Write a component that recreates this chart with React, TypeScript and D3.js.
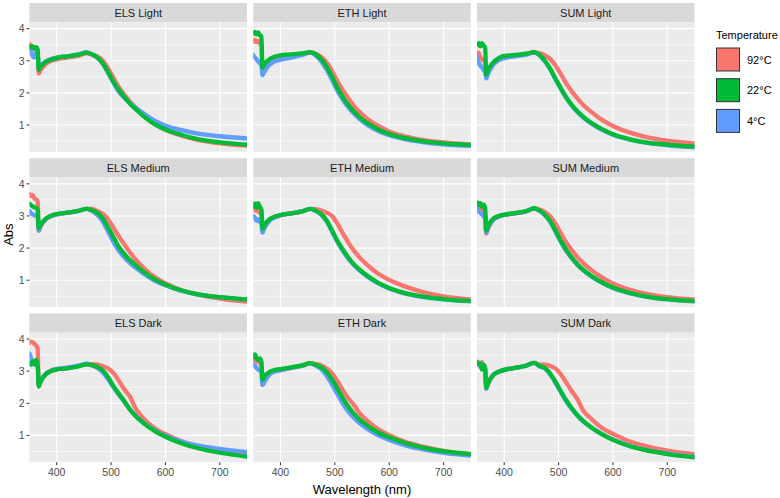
import React from 'react';
import * as d3 from 'd3';

const wavelengths = [350, 353, 356, 359, 362, 365, 367, 370, 380, 390, 400, 420, 440, 455, 465, 475, 485, 495, 505, 515, 525, 535, 545, 560, 580, 600, 630, 660, 700, 750];

const elsLight92 = [3.52,3.45,3.40,3.38,3.35,3.30,2.60,2.70,2.90,3.00,3.05,3.10,3.16,3.23,3.19,3.14,3.00,2.75,2.45,2.16,1.93,1.72,1.55,1.30,1.04,0.85,0.67,0.54,0.43,0.36];
const elsLight22 = [3.45,3.42,3.45,3.38,3.42,3.35,2.72,2.80,2.96,3.04,3.09,3.14,3.19,3.25,3.20,3.10,2.92,2.63,2.33,2.08,1.86,1.66,1.50,1.27,1.03,0.86,0.69,0.56,0.46,0.39];
const elsLight4 = [3.42,3.30,3.15,3.10,3.25,3.20,2.75,2.82,2.98,3.05,3.10,3.14,3.20,3.26,3.19,3.09,2.90,2.61,2.30,2.02,1.84,1.68,1.54,1.36,1.14,0.98,0.84,0.73,0.65,0.58];

const ethLight92 = [3.60,3.65,3.58,3.62,3.55,3.50,2.68,2.80,2.98,3.06,3.10,3.15,3.20,3.26,3.22,3.12,2.95,2.68,2.36,2.08,1.83,1.60,1.41,1.19,0.97,0.80,0.64,0.54,0.46,0.40];
const ethLight22 = [3.85,3.90,3.82,3.88,3.80,3.75,2.78,2.88,3.05,3.13,3.17,3.20,3.23,3.27,3.20,3.05,2.82,2.50,2.16,1.86,1.62,1.42,1.25,1.06,0.86,0.72,0.59,0.50,0.43,0.38];
const ethLight4 = [3.18,3.10,3.05,2.98,2.92,2.85,2.55,2.65,2.88,2.98,3.03,3.10,3.18,3.25,3.16,2.98,2.72,2.40,2.06,1.78,1.55,1.36,1.20,1.00,0.81,0.68,0.55,0.47,0.40,0.35];

const sumLight92 = [3.22,3.25,3.10,3.05,3.00,2.95,2.52,2.62,2.90,3.03,3.10,3.15,3.20,3.26,3.24,3.17,3.05,2.84,2.56,2.27,2.03,1.82,1.63,1.41,1.16,0.97,0.77,0.63,0.51,0.43];
const sumLight22 = [3.50,3.55,3.45,3.55,3.48,3.40,2.57,2.70,2.95,3.08,3.15,3.18,3.22,3.27,3.18,3.00,2.74,2.42,2.12,1.84,1.61,1.42,1.26,1.07,0.87,0.71,0.56,0.46,0.39,0.33];
const sumLight4 = [3.10,2.95,2.85,2.80,2.72,2.65,2.45,2.58,2.88,3.02,3.08,3.14,3.19,3.25,3.17,2.98,2.72,2.40,2.10,1.82,1.59,1.40,1.24,1.05,0.85,0.70,0.55,0.45,0.37,0.31];

const elsMedium92 = [3.68,3.62,3.65,3.55,3.52,3.45,2.54,2.66,2.90,3.00,3.05,3.10,3.16,3.22,3.22,3.15,3.06,2.88,2.62,2.34,2.10,1.86,1.65,1.38,1.10,0.90,0.69,0.55,0.43,0.33];
const elsMedium22 = [3.38,3.33,3.30,3.27,3.25,3.20,2.62,2.72,2.92,3.01,3.06,3.10,3.16,3.22,3.18,3.09,2.92,2.63,2.32,2.02,1.80,1.62,1.47,1.26,1.03,0.86,0.68,0.56,0.47,0.40];
const elsMedium4 = [3.15,3.08,3.05,3.02,3.00,2.95,2.55,2.68,2.90,3.00,3.05,3.10,3.16,3.22,3.16,3.03,2.82,2.50,2.17,1.90,1.70,1.53,1.39,1.20,0.99,0.84,0.67,0.56,0.47,0.40];

const ethMedium92 = [3.25,3.20,3.15,3.18,3.10,3.05,2.50,2.62,2.86,2.96,3.02,3.08,3.14,3.22,3.21,3.17,3.10,3.00,2.75,2.45,2.17,1.92,1.72,1.47,1.20,1.01,0.80,0.64,0.50,0.40];
const ethMedium22 = [3.30,3.38,3.25,3.40,3.28,3.20,2.60,2.70,2.90,2.98,3.03,3.08,3.14,3.22,3.16,3.06,2.86,2.55,2.22,1.95,1.70,1.50,1.34,1.14,0.92,0.76,0.60,0.50,0.41,0.35];
const ethMedium4 = [3.00,2.95,2.85,2.90,2.82,2.75,2.48,2.60,2.85,2.96,3.02,3.08,3.14,3.22,3.15,3.04,2.83,2.51,2.18,1.91,1.67,1.47,1.31,1.11,0.90,0.74,0.58,0.48,0.40,0.34];

const sumMedium92 = [3.35,3.30,3.20,3.25,3.10,3.05,2.45,2.60,2.88,2.98,3.03,3.08,3.14,3.23,3.20,3.12,2.98,2.74,2.44,2.15,1.92,1.71,1.54,1.32,1.08,0.90,0.71,0.58,0.47,0.40];
const sumMedium22 = [3.42,3.35,3.40,3.28,3.35,3.25,2.55,2.68,2.92,3.00,3.04,3.09,3.15,3.24,3.17,3.04,2.83,2.52,2.20,1.92,1.69,1.49,1.33,1.14,0.93,0.77,0.61,0.50,0.41,0.35];
const sumMedium4 = [3.25,3.15,3.10,3.05,3.00,2.90,2.48,2.62,2.88,2.98,3.03,3.08,3.14,3.23,3.16,3.02,2.80,2.49,2.17,1.89,1.67,1.47,1.31,1.12,0.92,0.76,0.60,0.49,0.40,0.34];

const elsDark92 = [3.88,3.92,3.90,3.85,3.80,3.70,2.57,2.68,2.92,3.02,3.06,3.10,3.16,3.22,3.22,3.20,3.15,3.08,2.93,2.68,2.42,2.20,1.84,1.52,1.22,1.04,0.82,0.66,0.52,0.40];
const elsDark22 = [3.25,3.20,3.30,3.22,3.35,3.20,2.52,2.65,2.90,3.00,3.05,3.09,3.15,3.21,3.19,3.13,3.02,2.80,2.52,2.28,2.05,1.80,1.60,1.38,1.14,0.96,0.75,0.60,0.46,0.34];
const elsDark4 = [3.55,3.40,3.25,3.20,3.20,3.15,2.55,2.68,2.92,3.02,3.07,3.11,3.17,3.23,3.18,3.10,2.96,2.74,2.48,2.25,2.03,1.80,1.62,1.40,1.16,0.99,0.80,0.68,0.58,0.48];

const ethDark92 = [3.35,3.38,3.30,3.32,3.25,3.20,2.57,2.68,2.92,3.00,3.03,3.10,3.17,3.24,3.22,3.18,3.08,2.93,2.68,2.40,2.15,1.95,1.70,1.45,1.19,1.01,0.80,0.66,0.52,0.41];
const ethDark22 = [3.45,3.52,3.40,3.35,3.40,3.30,2.73,2.82,2.98,3.04,3.06,3.12,3.18,3.25,3.20,3.12,2.97,2.74,2.45,2.15,1.89,1.68,1.50,1.30,1.09,0.94,0.76,0.63,0.51,0.42];
const ethDark4 = [3.22,3.18,3.10,3.05,3.02,2.98,2.57,2.66,2.90,2.99,3.03,3.10,3.17,3.24,3.17,3.06,2.86,2.58,2.28,1.98,1.74,1.55,1.39,1.20,1.00,0.86,0.69,0.57,0.46,0.37];

const sumDark92 = [3.30,3.25,3.15,3.28,3.10,3.05,2.46,2.60,2.88,2.98,3.04,3.10,3.17,3.26,3.20,3.20,3.16,3.07,2.88,2.62,2.36,2.12,1.78,1.52,1.23,1.05,0.82,0.67,0.53,0.42];
const sumDark22 = [3.28,3.22,3.25,3.05,3.20,3.10,2.48,2.62,2.88,2.98,3.04,3.10,3.17,3.26,3.16,3.10,2.92,2.65,2.35,2.07,1.83,1.62,1.45,1.25,1.03,0.86,0.67,0.54,0.42,0.32];
const sumDark4 = [3.25,3.20,3.15,3.10,3.08,3.00,2.45,2.60,2.88,2.98,3.04,3.10,3.17,3.26,3.15,3.08,2.89,2.62,2.32,2.04,1.81,1.61,1.44,1.25,1.04,0.87,0.68,0.55,0.43,0.33];

const panelTitles = ['ELS Light', 'ETH Light', 'SUM Light', 'ELS Medium', 'ETH Medium', 'SUM Medium', 'ELS Dark', 'ETH Dark', 'SUM Dark'];
const temperatures = ['92°C', '22°C', '4°C'];
const colors = ['#F8766D', '#00BA38', '#619CFF'];
const xTicks = [400, 500, 600, 700];
const yTicks = [1, 2, 3, 4];
const yMinor = [0.5, 1.5, 2.5, 3.5];

const panelSeries = [
  [elsLight92, elsLight22, elsLight4],
  [ethLight92, ethLight22, ethLight4],
  [sumLight92, sumLight22, sumLight4],
  [elsMedium92, elsMedium22, elsMedium4],
  [ethMedium92, ethMedium22, ethMedium4],
  [sumMedium92, sumMedium22, sumMedium4],
  [elsDark92, elsDark22, elsDark4],
  [ethDark92, ethDark22, ethDark4],
  [sumDark92, sumDark22, sumDark4],
];

const FONT = 'Liberation Sans, Arial, sans-serif';
const colX0 = 29.5;
const colPitch = 223.75;
const panelW = 217.5;
const rowY0 = 3;
const rowPitch = 155.2;
const stripH = 19.3;
const panelH = 129.5;

export default function App() {
  const x = d3.scaleLinear().domain([350, 750]).range([0, panelW]);
  const y = d3.scaleLinear().domain([0.166, 4.197]).range([panelH, 0]);
  const line = d3
    .line<number>()
    .x((_, i) => x(wavelengths[i]))
    .y((d) => y(d))
    .curve(d3.curveMonotoneX);
  const drawOrder = [0, 2, 1];

  return (
    <svg
      width={780}
      height={498}
      style={{ position: 'absolute', left: 0, top: 0, background: '#fff' }}
      fontFamily={FONT}
    >
      {panelTitles.map((title, p) => {
        const r = Math.floor(p / 3);
        const c = p % 3;
        const px = colX0 + c * colPitch;
        const sy = rowY0 + r * rowPitch;
        const py = sy + stripH;
        return (
          <g key={title}>
            <rect x={px} y={sy} width={panelW} height={stripH} fill="#D9D9D9" />
            <text x={px + panelW / 2} y={sy + stripH / 2 + 4} textAnchor="middle" fontSize={11} fill="#1A1A1A">
              {title}
            </text>
            <g transform={`translate(${px},${py})`}>
              <rect width={panelW} height={panelH} fill="#EBEBEB" />
              {yMinor.map((t) => (
                <line key={'m' + t} x1={0} x2={panelW} y1={y(t)} y2={y(t)} stroke="#fff" strokeWidth={0.6} />
              ))}
              {yTicks.map((t) => (
                <line key={'y' + t} x1={0} x2={panelW} y1={y(t)} y2={y(t)} stroke="#fff" strokeWidth={1.1} />
              ))}
              {xTicks.map((t) => (
                <line key={'x' + t} x1={x(t)} x2={x(t)} y1={0} y2={panelH} stroke="#fff" strokeWidth={1.1} />
              ))}
              <clipPath id={'clip' + p}>
                <rect width={panelW} height={panelH} />
              </clipPath>
              <g clipPath={`url(#clip${p})`}>
                {drawOrder.map((s) => (
                  <path
                    key={s}
                    d={line(panelSeries[p][s]) || ''}
                    fill="none"
                    stroke={colors[s]}
                    strokeWidth={4.3}
                    strokeLinejoin="round"
                    strokeLinecap="round"
                  />
                ))}
              </g>
              {c === 0 &&
                yTicks.map((t) => (
                  <g key={'yt' + t}>
                    <line x1={-3} x2={0} y1={y(t)} y2={y(t)} stroke="#333" strokeWidth={1} />
                    <text x={-5} y={y(t) + 3.8} textAnchor="end" fontSize={10.5} fill="#4D4D4D">
                      {t}
                    </text>
                  </g>
                ))}
              {r === 2 &&
                xTicks.map((t) => (
                  <g key={'xt' + t}>
                    <line x1={x(t)} x2={x(t)} y1={panelH} y2={panelH + 3} stroke="#333" strokeWidth={1} />
                    <text x={x(t)} y={panelH + 13.5} textAnchor="middle" fontSize={10.5} fill="#4D4D4D">
                      {t}
                    </text>
                  </g>
                ))}
            </g>
          </g>
        );
      })}
      <text x={colX0 + (colPitch * 2 + panelW) / 2} y={494} textAnchor="middle" fontSize={13} fill="#000">
        Wavelength (nm)
      </text>
      <text
        transform={`translate(13,${rowY0 + (rowPitch * 2 + stripH + panelH) / 2 + 2}) rotate(-90)`}
        textAnchor="middle"
        fontSize={13}
        fill="#000"
      >
        Abs
      </text>
      <g transform="translate(716,0)">
        <text x={0} y={39} fontSize={11} fill="#000">
          Temperature
        </text>
        {temperatures.map((t, i) => (
          <g key={t} transform={`translate(0,${47.5 + i * 30.7})`}>
            <rect x={0.5} y={0.5} width={23} height={23} fill={colors[i]} stroke="#333" strokeWidth={1} />
            <text x={31} y={16} fontSize={11} fill="#000">
              {t}
            </text>
          </g>
        ))}
      </g>
    </svg>
  );
}
